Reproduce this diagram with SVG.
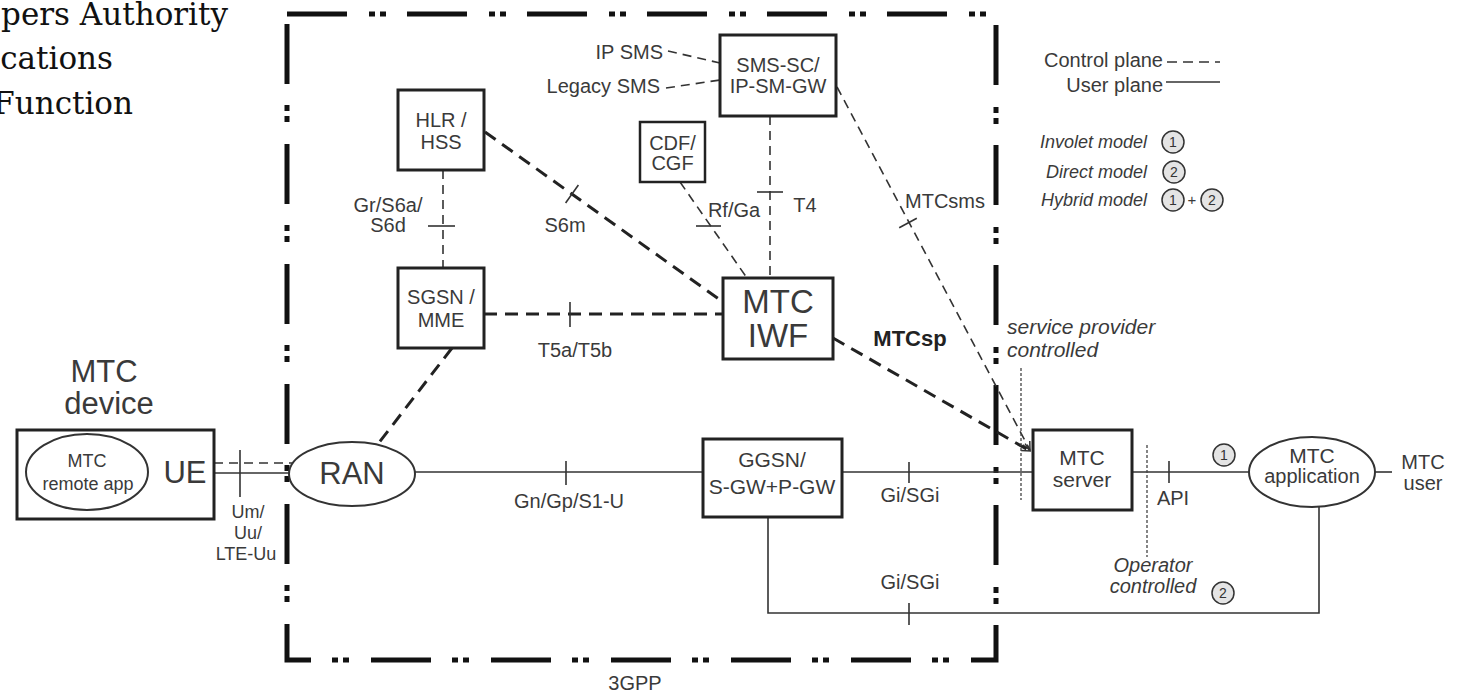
<svg xmlns="http://www.w3.org/2000/svg" width="1461" height="693" viewBox="0 0 1461 693">
<defs>
<style>
.t{font-family:"Liberation Sans",Arial,sans-serif;fill:#3a3a3a;font-size:20px;text-anchor:middle;}
.s{font-family:"DejaVu Serif",serif;fill:#111;font-size:31px;text-anchor:end;}
.it{font-style:italic;}
.box{fill:#fff;stroke:#222;stroke-width:3;}
.ell{fill:#fff;stroke:#333;stroke-width:2;}
.solid{fill:none;stroke:#333;stroke-width:1.6;}
.dash{fill:none;stroke:#333;stroke-width:1.6;stroke-dasharray:9 6;}
.tdash{fill:none;stroke:#222;stroke-width:3;stroke-dasharray:13 8;}
.tick{fill:none;stroke:#333;stroke-width:1.6;}
.dot{fill:none;stroke:#444;stroke-width:1.3;stroke-dasharray:3 2;}
.circ{fill:#e4e4e4;stroke:#333;stroke-width:1.5;}
.num{font-family:"Liberation Sans",Arial,sans-serif;fill:#333;font-size:14px;text-anchor:middle;}
.border{fill:none;stroke:#111;stroke-width:5;stroke-dasharray:60 22 6 5 6 21;}
</style>
<marker id="arr" viewBox="0 0 10 10" refX="9" refY="5" markerWidth="10" markerHeight="10" markerUnits="userSpaceOnUse" orient="auto">
<path d="M1,1 L9,5 L1,9" fill="none" stroke="#333" stroke-width="1.5"/>
</marker>
</defs>
<rect width="1461" height="693" fill="#fff"/>

<g id="header-text">
<text class="s" x="228" y="25">pers Authority</text>
<text class="s" x="113" y="69">cations</text>
<text class="s" x="133" y="114">Function</text>
</g>

<g id="boundary-3gpp">
<path class="border" d="M287,14 H996 V660 H287 Z"/>
<text class="t" x="635" y="690">3GPP</text>
</g>

<g id="connectors">
<path class="dash" d="M214,463 H293"/>
<path class="solid" d="M214,473 H290"/>
<path class="tick" d="M240,450 V497"/>
<path class="tdash" d="M452,348 L378,444"/>
<path class="solid" d="M415,472 H703"/>
<path class="tick" d="M566,461 V485"/>
<path class="solid" d="M842,472 H1033"/>
<path class="tick" d="M909,462 V483"/>
<path class="solid" d="M1132,472 H1249"/>
<path class="tick" d="M1169,461 V483"/>
<path class="solid" d="M1375,472 H1392"/>
<path class="solid" d="M768,517 V613 H1319 V507"/>
<path class="tick" d="M909,603 V625"/>
<path class="dash" d="M443,170 V268"/>
<path class="tick" d="M428,226 H455"/>
<path class="tdash" d="M485,132 L723,302"/>
<path class="tick" d="M565.6,203 L578.4,185"/>
<path class="tdash" d="M484,314 H723"/>
<path class="tick" d="M570,302 V327"/>
<path class="dash" d="M680,182 L747,278"/>
<path class="tick" d="M696,226 H721"/>
<path class="dash" d="M770,116 V278"/>
<path class="tick" d="M757,192 H783"/>
<path class="dash" d="M668,51 L720,63"/>
<path class="dash" d="M666,88 L720,80"/>
<path class="dash" d="M837,87 L1030,450" marker-end="url(#arr)"/>
<path class="tick" d="M899.2,227.7 L916.8,218.3"/>
<path class="tdash" d="M833,338 L1030,451" marker-end="url(#arr)"/>
<path class="dot" d="M1021,368 V500"/>
<path class="dot" d="M1147,445 V557"/>
</g>

<g id="connector-labels">
<text class="t" x="388" y="212">Gr/S6a/</text>
<text class="t" x="388" y="232">S6d</text>
<text class="t" x="565" y="232">S6m</text>
<text class="t" x="575" y="357">T5a/T5b</text>
<text class="t" x="734" y="217">Rf/Ga</text>
<text class="t" x="805" y="212">T4</text>
<text class="t" x="905" y="208" style="text-anchor:start">MTCsms</text>
<text class="t" x="910" y="346" style="font-weight:bold;font-size:22px;fill:#222">MTCsp</text>
<text class="t" x="663" y="59" style="text-anchor:end">IP SMS</text>
<text class="t" x="660" y="93" style="text-anchor:end">Legacy SMS</text>
<text class="t" x="248" y="518" style="font-size:18px">Um/</text>
<text class="t" x="248" y="539" style="font-size:18px">Uu/</text>
<text class="t" x="246" y="560" style="font-size:18px">LTE-Uu</text>
<text class="t" x="569" y="508">Gn/Gp/S1-U</text>
<text class="t" x="910" y="502">Gi/SGi</text>
<text class="t" x="910" y="589">Gi/SGi</text>
<text class="t" x="1173" y="505">API</text>
<text class="t it" x="1007" y="334" style="text-anchor:start;font-size:21px">service provider</text>
<text class="t it" x="1007" y="357" style="text-anchor:start;font-size:21px">controlled</text>
<text class="t it" x="1153" y="572">Operator</text>
<text class="t it" x="1153" y="593">controlled</text>
<circle class="circ" cx="1224" cy="455" r="11"/>
<text class="num" x="1224" y="460">1</text>
<circle class="circ" cx="1223" cy="593" r="11"/>
<text class="num" x="1223" y="598">2</text>
</g>

<g id="node-hlr">
<rect class="box" x="398" y="90" width="86" height="80"/>
<text class="t" x="441" y="127">HLR /</text>
<text class="t" x="441" y="149">HSS</text>
</g>
<g id="node-sgsn">
<rect class="box" x="398" y="268" width="86" height="80"/>
<text class="t" x="441" y="304">SGSN /</text>
<text class="t" x="441" y="327">MME</text>
</g>
<g id="node-cdf">
<rect class="box" x="640" y="122" width="65" height="60" style="stroke-width:2.5"/>
<text class="t" x="672.5" y="150">CDF/</text>
<text class="t" x="672.5" y="170">CGF</text>
</g>
<g id="node-smssc">
<rect class="box" x="720" y="35" width="116" height="81"/>
<text class="t" x="778" y="72">SMS-SC/</text>
<text class="t" x="778" y="93">IP-SM-GW</text>
</g>
<g id="node-iwf">
<rect class="box" x="723" y="278" width="110" height="81"/>
<text class="t" x="778" y="313" style="font-size:33px">MTC</text>
<text class="t" x="778" y="347" style="font-size:33px">IWF</text>
</g>
<g id="node-ggsn">
<rect class="box" x="703" y="439" width="139" height="78"/>
<text class="t" x="772" y="467" style="font-size:21px">GGSN/</text>
<text class="t" x="772" y="494" style="font-size:21px">S-GW+P-GW</text>
</g>
<g id="node-ran">
<ellipse class="ell" cx="352" cy="474" rx="63" ry="32"/>
<text class="t" x="352" y="484" style="font-size:31px">RAN</text>
</g>
<g id="node-mtc-device">
<text class="t" x="104" y="382" style="font-size:31px">MTC</text>
<text class="t" x="109" y="414" style="font-size:31px">device</text>
<rect class="box" x="17" y="430" width="197" height="89"/>
<ellipse class="ell" cx="87" cy="472" rx="61" ry="38"/>
<text class="t" x="87" y="467" style="font-size:18px">MTC</text>
<text class="t" x="88" y="490" style="font-size:18px">remote app</text>
<text class="t" x="185" y="483" style="font-size:31px">UE</text>
</g>
<g id="node-mtc-server">
<rect class="box" x="1033" y="430" width="99" height="80"/>
<text class="t" x="1082" y="465" style="font-size:21px">MTC</text>
<text class="t" x="1082" y="487" style="font-size:21px">server</text>
</g>
<g id="node-mtc-application">
<ellipse class="ell" cx="1312" cy="472" rx="63" ry="35"/>
<text class="t" x="1312" y="463" style="font-size:21px">MTC</text>
<text class="t" x="1312" y="483">application</text>
</g>
<g id="node-mtc-user">
<text class="t" x="1423" y="469">MTC</text>
<text class="t" x="1423" y="490">user</text>
</g>

<g id="legend">
<text class="t" x="1163" y="67" style="text-anchor:end">Control plane</text>
<path class="dash" d="M1167,62 H1220" style="stroke-dasharray:10 6"/>
<text class="t" x="1163" y="92" style="text-anchor:end">User plane</text>
<path class="solid" d="M1166,82 H1220"/>
<text class="t it" x="1147" y="148" style="text-anchor:end;font-size:18px">Involet model</text>
<circle class="circ" cx="1173" cy="142" r="11"/>
<text class="num" x="1173" y="147">1</text>
<text class="t it" x="1147" y="178" style="text-anchor:end;font-size:18px">Direct model</text>
<circle class="circ" cx="1174" cy="172" r="11"/>
<text class="num" x="1174" y="177">2</text>
<text class="t it" x="1147" y="206" style="text-anchor:end;font-size:18px">Hybrid model</text>
<circle class="circ" cx="1173" cy="200" r="11"/>
<text class="num" x="1173" y="205">1</text>
<text class="t" x="1192" y="205" style="font-size:15px">+</text>
<circle class="circ" cx="1212" cy="200" r="11"/>
<text class="num" x="1212" y="205">2</text>
</g>
</svg>
